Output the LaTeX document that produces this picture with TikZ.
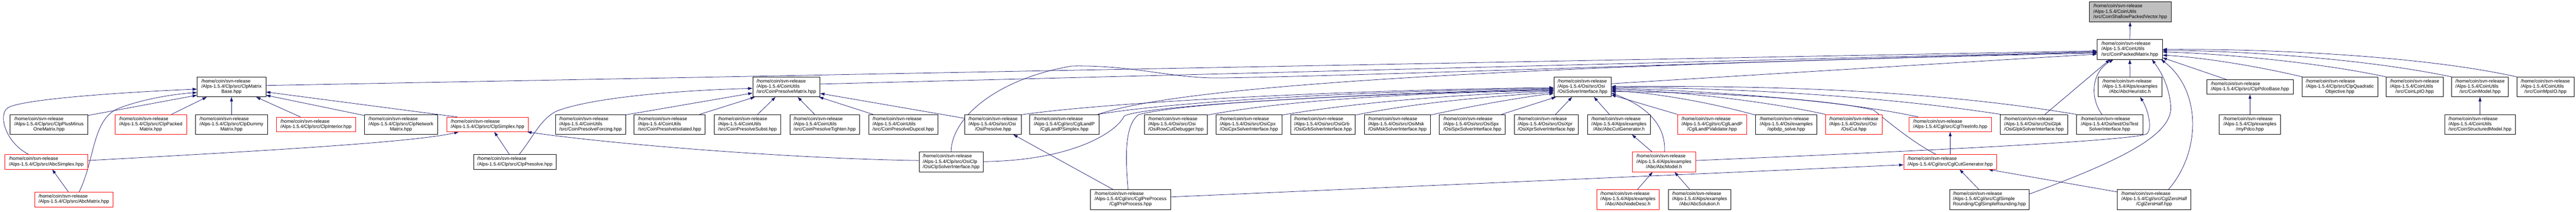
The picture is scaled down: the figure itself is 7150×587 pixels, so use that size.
\documentclass[tikz,border=0pt]{standalone}
\usepackage{fontspec}
\setmainfont{Liberation Sans}
\usetikzlibrary{arrows.meta}
\definecolor{edgeblue}{HTML}{191970}
\definecolor{rootgray}{HTML}{BFBFBF}
\newcommand{\lblfont}{\fontsize{13.2}{14.6}\selectfont}
\newcommand{\hcsr}{/home/coin/svn-release}
\newcommand{\threel}[3]{\begin{tabular}{@{}l@{}}#1\\#2\\\multicolumn{1}{@{}c@{}}{#3}\end{tabular}}
\newcommand{\twol}[2]{\begin{tabular}{@{}l@{}}#1\\\multicolumn{1}{@{}c@{}}{#2}\end{tabular}}
\pgfdeclarelayer{bg}
\pgfsetlayers{bg,main}
\tikzset{
  box/.style={draw=black, fill=white, line width=1pt, inner xsep=3pt, inner ysep=0pt, font=\lblfont, minimum height=55pt},
  boxtwo/.style={box, minimum height=40.5pt},
  trunc/.style={draw=red},
  conn/.style={draw=edgeblue, line width=1.1pt, -{Triangle[length=12pt,width=8pt]}}
}
\begin{document}
\begin{tikzpicture}[x=1pt,y=-1pt]
\useasboundingbox (0,0) rectangle (7150,587);
% row 0
\node[box, fill=rootgray, minimum width=228pt] (root) at (5912.5,33) {\threel{\hcsr}{/Alps-1.5.4/CoinUtils}{/src/CoinShallowPackedVector.hpp}};
% row 1
\node[box, minimum width=181pt] (CPM) at (5911.5,137) {\threel{\hcsr}{/Alps-1.5.4/CoinUtils}{/src/CoinPackedMatrix.hpp}};
% row 2
\node[box, minimum width=191pt] (CMB) at (642.5,241) {\threel{\hcsr}{/Alps-1.5.4/Clp/src/ClpMatrix}{Base.hpp}};
\node[box, minimum width=187pt] (CPrM) at (2182.5,241) {\threel{\hcsr}{/Alps-1.5.4/CoinUtils}{/src/CoinPresolveMatrix.hpp}};
\node[box, minimum width=159pt] (OSI) at (4392.5,241) {\threel{\hcsr}{/Alps-1.5.4/Osi/src/Osi}{/OsiSolverInterface.hpp}};
\node[box, minimum width=176pt] (AbcHeur) at (5912,241) {\threel{\hcsr}{/Alps-1.5.4/Alps/examples}{/Abc/AbcHeuristic.h}};
\node[boxtwo, minimum width=240pt] (Pdco) at (6245,241) {\twol{\hcsr}{/Alps-1.5.4/Clp/src/ClpPdcoBase.hpp}};
\node[box, minimum width=211pt] (Quad) at (6494.5,241) {\threel{\hcsr}{/Alps-1.5.4/Clp/src/ClpQuadratic}{Objective.hpp}};
\node[box, minimum width=158pt] (LpIO) at (6702,241) {\threel{\hcsr}{/Alps-1.5.4/CoinUtils}{/src/CoinLpIO.hpp}};
\node[box, minimum width=157pt] (Model) at (6883.5,241) {\threel{\hcsr}{/Alps-1.5.4/CoinUtils}{/src/CoinModel.hpp}};
\node[box, minimum width=158pt] (Mps) at (7065,241) {\threel{\hcsr}{/Alps-1.5.4/CoinUtils}{/src/CoinMpsIO.hpp}};
% row 3
\node[box, minimum width=216pt] (PM) at (136,345) {\threel{\hcsr}{/Alps-1.5.4/Clp/src/ClpPlusMinus}{OneMatrix.hpp}};
\node[box, trunc, minimum width=199pt] (Packed) at (418.5,345) {\threel{\hcsr}{/Alps-1.5.4/Clp/src/ClpPacked}{Matrix.hpp}};
\node[box, minimum width=201pt] (Dummy) at (642.5,345) {\threel{\hcsr}{/Alps-1.5.4/Clp/src/ClpDummy}{Matrix.hpp}};
\node[boxtwo, trunc, minimum width=220pt] (Interior) at (877,345) {\twol{\hcsr}{/Alps-1.5.4/Clp/src/ClpInterior.hpp}};
\node[box, minimum width=204pt] (Network) at (1113,345) {\threel{\hcsr}{/Alps-1.5.4/Clp/src/ClpNetwork}{Matrix.hpp}};
\node[boxtwo, trunc, minimum width=226pt] (Simplex) at (1353,345) {\twol{\hcsr}{/Alps-1.5.4/Clp/src/ClpSimplex.hpp}};
\node[box, minimum width=194pt] (Forcing) at (1639,345) {\threel{\hcsr}{/Alps-1.5.4/CoinUtils}{/src/CoinPresolveForcing.hpp}};
\node[box, minimum width=197pt] (Isolated) at (1858.5,345) {\threel{\hcsr}{/Alps-1.5.4/CoinUtils}{/src/CoinPresolveIsolated.hpp}};
\node[box, minimum width=185pt] (Subst) at (2074.5,345) {\threel{\hcsr}{/Alps-1.5.4/CoinUtils}{/src/CoinPresolveSubst.hpp}};
\node[box, minimum width=194pt] (Tighten) at (2289,345) {\threel{\hcsr}{/Alps-1.5.4/CoinUtils}{/src/CoinPresolveTighten.hpp}};
\node[box, minimum width=192pt] (Dupcol) at (2507,345) {\threel{\hcsr}{/Alps-1.5.4/CoinUtils}{/src/CoinPresolveDupcol.hpp}};
\node[box, minimum width=157pt] (OsiPre) at (2756.5,345) {\threel{\hcsr}{/Alps-1.5.4/Osi/src/Osi}{/OsiPresolve.hpp}};
\node[box, minimum width=192pt] (LandPS) at (2954,345) {\threel{\hcsr}{/Alps-1.5.4/Cgl/src/CglLandP}{/CglLandPSimplex.hpp}};
\node[box, minimum width=174pt] (RowCut) at (3264,345) {\threel{\hcsr}{/Alps-1.5.4/Osi/src/Osi}{/OsiRowCutDebugger.hpp}};
\node[box, minimum width=183pt] (Cpx) at (3466.5,345) {\threel{\hcsr}{/Alps-1.5.4/Osi/src/OsiCpx}{/OsiCpxSolverInterface.hpp}};
\node[box, minimum width=180pt] (Grb) at (3672,345) {\threel{\hcsr}{/Alps-1.5.4/Osi/src/OsiGrb}{/OsiGrbSolverInterface.hpp}};
\node[box, minimum width=183pt] (Msk) at (3878.5,345) {\threel{\hcsr}{/Alps-1.5.4/Osi/src/OsiMsk}{/OsiMskSolverInterface.hpp}};
\node[box, minimum width=183pt] (Spx) at (4086.5,345) {\threel{\hcsr}{/Alps-1.5.4/Osi/src/OsiSpx}{/OsiSpxSolverInterface.hpp}};
\node[box, minimum width=178pt] (Xpr) at (4292,345) {\threel{\hcsr}{/Alps-1.5.4/Osi/src/OsiXpr}{/OsiXprSolverInterface.hpp}};
\node[box, minimum width=175pt] (CutGen) at (4493.5,345) {\threel{\hcsr}{/Alps-1.5.4/Alps/examples}{/Abc/AbcCutGenerator.h}};
\node[box, trunc, minimum width=192pt] (LandPV) at (4752,345) {\threel{\hcsr}{/Alps-1.5.4/Cgl/src/CglLandP}{/CglLandPValidator.hpp}};
\node[box, minimum width=170pt] (opbdp) at (4958,345) {\threel{\hcsr}{/Alps-1.5.4/Osi/examples}{/opbdp\_solve.hpp}};
\node[box, trunc, minimum width=157pt] (OsiCut) at (5145.5,345) {\threel{\hcsr}{/Alps-1.5.4/Osi/src/Osi}{/OsiCut.hpp}};
\node[boxtwo, trunc, minimum width=228pt] (TreeInfo) at (5413,345) {\twol{\hcsr}{/Alps-1.5.4/Cgl/src/CglTreeInfo.hpp}};
\node[box, minimum width=187pt] (Glpk) at (5645.5,345) {\threel{\hcsr}{/Alps-1.5.4/Osi/src/OsiGlpk}{/OsiGlpkSolverInterface.hpp}};
\node[box, minimum width=185pt] (OsiTest) at (5855.5,345) {\threel{\hcsr}{/Alps-1.5.4/Osi/test/OsiTest}{SolverInterface.hpp}};
\node[box, minimum width=170pt] (myPdco) at (6245,345) {\threel{\hcsr}{/Alps-1.5.4/Clp/examples}{/myPdco.hpp}};
\node[box, minimum width=195pt] (CSM) at (6883.5,345) {\threel{\hcsr}{/Alps-1.5.4/CoinUtils}{/src/CoinStructuredModel.hpp}};
% row 4
\node[boxtwo, trunc, minimum width=231pt] (AbcSimplex) at (128.5,449) {\twol{\hcsr}{/Alps-1.5.4/Clp/src/AbcSimplex.hpp}};
\node[boxtwo, minimum width=230pt] (Presolve) at (1429,449) {\twol{\hcsr}{/Alps-1.5.4/Clp/src/ClpPresolve.hpp}};
\node[box, minimum width=178pt] (OsiClp) at (2640,449) {\threel{\hcsr}{/Alps-1.5.4/Clp/src/OsiClp}{/OsiClpSolverInterface.hpp}};
\node[box, trunc, minimum width=175pt] (AbcModel) at (4618.5,449) {\threel{\hcsr}{/Alps-1.5.4/Alps/examples}{/Abc/AbcModel.h}};
\node[boxtwo, trunc, minimum width=258.5pt] (CutGenC) at (5413,449) {\twol{\hcsr}{/Alps-1.5.4/Cgl/src/CglCutGenerator.hpp}};
% row 5
\node[boxtwo, trunc, minimum width=218pt] (AbcMatrix) at (205,553) {\twol{\hcsr}{/Alps-1.5.4/Clp/src/AbcMatrix.hpp}};
\node[box, minimum width=222pt] (PreProc) at (3138,553) {\threel{\hcsr}{/Alps-1.5.4/Cgl/src/CglPreProcess}{/CglPreProcess.hpp}};
\node[box, trunc, minimum width=173pt] (NodeDesc) at (4518.5,553) {\threel{\hcsr}{/Alps-1.5.4/Alps/examples}{/Abc/AbcNodeDesc.h}};
\node[box, minimum width=173pt] (Solution) at (4717.5,553) {\threel{\hcsr}{/Alps-1.5.4/Alps/examples}{/Abc/AbcSolution.h}};
\node[box, minimum width=220pt] (SimpleR) at (5522,553) {\threel{\hcsr}{/Alps-1.5.4/Cgl/src/CglSimple}{Rounding/CglSimpleRounding.hpp}};
\node[box, minimum width=204.5pt] (ZeroHalf) at (5979,553) {\threel{\hcsr}{/Alps-1.5.4/Cgl/src/CglZeroHalf}{/CglZeroHalf.hpp}};

\begin{pgfonlayer}{bg}
% into CoinShallowPackedVector / CoinPackedMatrix
\draw[conn] (CPM.north) -- (root.south);
\draw[conn] ([yshift=4pt]CMB.east) -- ([yshift=-4pt]CPM.west);
\draw[conn] ([yshift=8pt]CPrM.east) -- ([yshift=-6pt]CPM.west);
\draw[conn] (OsiClp.north) .. controls (2640,330) and (2760,220) .. (2975,183) .. controls (3150,180) and (3250,218) .. (3390,216) .. controls (3800,210) and (5000,165) .. ([yshift=-8pt]CPM.west);
\draw[conn] ([xshift=-3pt]LandPS.north east) .. controls (3250,250) and (3900,190) .. ([yshift=-10pt]CPM.west);
\draw[conn] ([yshift=9pt]OSI.east) -- ([yshift=-13pt]CPM.west);
\draw[conn] (AbcHeur.north) -- (CPM.south);
\draw[conn] ([xshift=30.5pt]Glpk.north) -- ([xshift=-55.5pt]CPM.south);
\draw[conn] ([xshift=-21.5pt]OsiTest.north) .. controls (5800,270) and (5805,200) .. ([xshift=-45.5pt]CPM.south);
\draw[conn] ([yshift=15pt]SimpleR.east) .. controls (5900,440) and (6035,370) .. (6025,290) .. controls (6018,230) and (5995,195) .. ([xshift=61.5pt]CPM.south);
\draw[conn] ([xshift=40pt]ZeroHalf.north) .. controls (6110,420) and (6110,250) .. ([xshift=-4pt]CPM.south east);
\draw[conn] ([xshift=-65.5pt]Pdco.north) -- ([yshift=-23pt]CPM.east);
\draw[conn] ([xshift=2pt]Quad.north west) .. controls (6250,180) and (6100,158) .. ([yshift=-16pt]CPM.east);
\draw[conn] (LpIO.north west) .. controls (6420,170) and (6150,148) .. ([yshift=-7pt]CPM.east);
\draw[conn] (Model.north west) .. controls (6550,160) and (6200,140) .. ([yshift=-3pt]CPM.east);
\draw[conn] (Mps.north west) .. controls (6700,150) and (6250,135) .. (CPM.east);
\draw[conn] (CSM.north) -- (Model.south);
\draw[conn] (myPdco.north) -- (Pdco.south);
% into ClpMatrixBase
\draw[conn] ([yshift=-3pt]PM.north east) -- ([yshift=-23pt]CMB.west);
\draw[conn] ([xshift=57.5pt]Packed.north) -- ([xshift=-68.5pt]CMB.south);
\draw[conn] (Dummy.north) -- (CMB.south);
\draw[conn] ([xshift=-43pt]Interior.north) -- ([xshift=68.5pt]CMB.south);
\draw[conn] ([yshift=-3pt]Network.north west) -- ([yshift=-23pt]CMB.east);
\draw[conn] ([xshift=-84pt]Simplex.north) -- ([yshift=-14pt]CMB.east);
\draw[conn] ([xshift=-48.5pt]AbcSimplex.north) .. controls (15,395) and (-5,320) .. (20,300) .. controls (45,280) and (250,260) .. ([yshift=-6pt]CMB.west);
\draw[conn] ([xshift=14.6pt]AbcMatrix.north) .. controls (265,440) and (255,330) .. (330,300) .. controls (390,277) and (470,262) .. ([yshift=-15.5pt]CMB.west);
\draw[conn] ([xshift=-15pt]AbcMatrix.north) -- ([xshift=16.5pt]AbcSimplex.south);
\draw[conn] ([yshift=4pt]AbcSimplex.east) .. controls (700,420) and (1150,395) .. ([xshift=-80pt]Simplex.south);
\draw[conn] ([xshift=-15pt]Presolve.north) -- ([xshift=19pt]Simplex.south);
\draw[conn] ([xshift=12pt]Presolve.north) .. controls (1480,380) and (1500,330) .. (1545,308) .. controls (1650,268) and (1900,250) .. ([yshift=-4pt]CPrM.west);
\draw[conn] ([yshift=4pt]OsiClp.west) .. controls (2200,440) and (1700,400) .. ([xshift=-3pt]Simplex.south east);
% into CoinPresolveMatrix
\draw[conn] ([yshift=-1.5pt]Forcing.north east) -- ([yshift=-17pt]CPrM.west);
\draw[conn] ([xshift=83.5pt]Isolated.north) -- ([xshift=-87.5pt]CPrM.south);
\draw[conn] ([xshift=28.5pt]Subst.north) -- ([xshift=-30pt]CPrM.south);
\draw[conn] ([xshift=-28pt]Tighten.north) -- ([xshift=31.5pt]CPrM.south);
\draw[conn] ([xshift=-84pt]Dupcol.north) -- ([xshift=-3pt]CPrM.south east);
\draw[conn] ([yshift=17pt]OsiPre.west) -- ([yshift=-18pt]CPrM.east);
% into OsiSolverInterface (left)
\draw[conn] ([yshift=-1pt]OsiPre.north east) .. controls (3100,280) and (3800,248) .. ([yshift=-2pt]OSI.west);
\draw[conn] ([xshift=-3pt]LandPS.north east) .. controls (3300,275) and (3900,250) .. ([yshift=-4pt]OSI.west);
\draw[conn] ([yshift=1pt]OsiClp.east) .. controls (2980,445) and (3100,365) .. (3120,322) .. controls (3170,290) and (3900,255) .. ([yshift=-6pt]OSI.west);
\draw[conn] ([xshift=-7pt]PreProc.north) .. controls (3125,450) and (3118,350) .. (3160,318) .. controls (3300,280) and (3900,258) .. ([yshift=-8pt]OSI.west);
\draw[conn] ([xshift=-49pt]PreProc.north) -- ([xshift=56pt]OsiPre.south);
\draw[conn] ([yshift=-2pt]RowCut.north east) .. controls (3600,272) and (4000,256) .. ([yshift=-10pt]OSI.west);
\draw[conn] ([yshift=-2pt]Cpx.north east) .. controls (3800,278) and (4100,260) .. ([yshift=-12pt]OSI.west);
\draw[conn] ([yshift=-2pt]Grb.north east) .. controls (3950,280) and (4200,263) .. ([yshift=-15pt]OSI.west);
\draw[conn] ([yshift=-2pt]Msk.north east) .. controls (4100,290) and (4250,266) .. ([yshift=-18pt]OSI.west);
\draw[conn] ([xshift=81.5pt]Spx.north) -- ([xshift=6pt]OSI.south west);
\draw[conn] ([xshift=25.6pt]Xpr.north) -- ([xshift=-29pt]OSI.south);
\draw[conn] ([xshift=-26.5pt]CutGen.north) -- ([xshift=31.5pt]OSI.south);
% Abc examples
\draw[conn] ([xshift=1.5pt]AbcModel.north) .. controls (4625,340) and (4560,290) .. ([yshift=-17pt]OSI.east);
\draw[conn] ([xshift=-33pt]AbcModel.north) -- ([xshift=36pt]CutGen.south);
\draw[conn] ([xshift=26.5pt]NodeDesc.north) -- ([xshift=-31.5pt]AbcModel.south);
\draw[conn] ([xshift=-27.5pt]Solution.north) -- ([xshift=29.5pt]AbcModel.south);
\draw[conn] ([yshift=4pt]AbcModel.east) .. controls (5300,420) and (5940,390) .. (5960,370) .. controls (5975,352) and (5960,300) .. ([xshift=28pt]AbcHeur.south);
% into OsiSolverInterface (right)
\draw[conn] (LandPV.north west) -- ([yshift=-22pt]OSI.east);
\draw[conn] ([yshift=-2pt]opbdp.north west) .. controls (4750,285) and (4600,258) .. ([yshift=-10pt]OSI.east);
\draw[conn] (OsiCut.north west) .. controls (4900,280) and (4650,252) .. ([yshift=-7pt]OSI.east);
\draw[conn] ([xshift=-89pt]TreeInfo.north) .. controls (5100,275) and (4700,250) .. ([yshift=-4pt]OSI.east);
\draw[conn] ([xshift=1.5pt]Glpk.north west) .. controls (5150,255) and (4700,243) .. ([yshift=-1pt]OSI.east);
\draw[conn] (OsiTest.north west) .. controls (5300,240) and (4800,238) .. ([yshift=1pt]OSI.east);
\draw[conn] ([xshift=-39pt]CutGenC.north) .. controls (5310,395) and (5250,345) .. (5200,305) .. controls (5050,270) and (4700,255) .. ([yshift=-13pt]OSI.east);
% Cgl cut generators
\draw[conn] (CutGenC.north) -- (TreeInfo.south);
\draw[conn] ([xshift=-29.6pt]SimpleR.north) -- ([xshift=26pt]CutGenC.south);
\draw[conn] ([yshift=21pt]ZeroHalf.west) -- ([xshift=106pt]CutGenC.south);
\draw[conn] ([yshift=7pt]PreProc.east) -- ([yshift=-8pt]CutGenC.west);
\end{pgfonlayer}
\end{tikzpicture}
\end{document}
